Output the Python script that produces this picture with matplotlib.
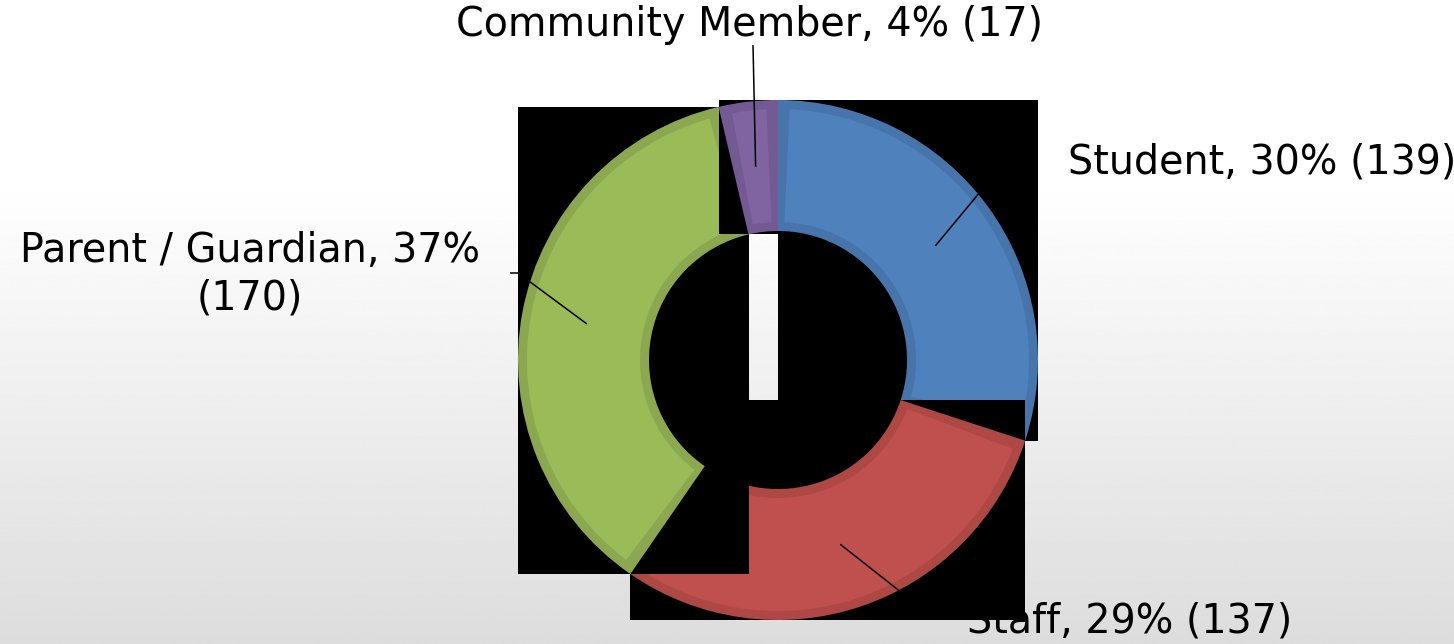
import numpy as np
import matplotlib.pyplot as plt
from matplotlib.patches import Wedge, Rectangle
from matplotlib.colors import to_rgb

# chart data
labels = ['Student', 'Staff', 'Parent / Guardian', 'Community Member']
counts = [139, 137, 170, 17]
percents = [30, 29, 37, 4]
colors = ['#4F81BD', '#C0504D', '#9BBB59', '#8064A2']

# layout (pixel units, y grows downward)
W, H = 1454, 644
cx, cy = 778, 360
r_out, r_in = 260, 129
band = 9
label_pos = [(1262, 162, 'center'), (1130, 622, 'center'), (250, 275, 'center'), (750, 25, 'center')]
leader_end = [[(990, 180)], [(930, 615)], [(518, 273), (510, 273)], [(753, 45)]]


def darker(c, f=0.9):
    return tuple(v * f for v in to_rgb(c))


def main():
    fig = plt.figure(figsize=(W / 100, H / 100), dpi=100)
    ax = fig.add_axes([0, 0, 1, 1])
    ax.set_xlim(0, W)
    ax.set_ylim(H, 0)
    ax.axis('off')

    # background gradient, white at top to light grey at bottom
    yy = np.linspace(0, 1, 300)
    shade = np.clip((yy - 0.28) / 0.72, 0, 1)
    g = 1.0 - shade * (1.0 - 0.865)
    img = np.repeat(g[:, None], 2, axis=1)
    ax.imshow(img, cmap='gray', vmin=0, vmax=1, extent=[0, W, H, 0], aspect='auto', zorder=0)

    total = sum(counts)
    start = 0.0
    z = 2
    for i, (lab, n, p, col) in enumerate(zip(labels, counts, percents, colors)):
        end = start + n / total * 360.0
        # angles clockwise from 12 o'clock -> matplotlib angles with inverted y axis
        w = Wedge((cx, cy), r_out, start - 90, end - 90, width=r_out - r_in,
                  facecolor=darker(col), edgecolor='none', zorder=z + 1)
        bb = w.get_path().get_extents()
        ax.add_patch(Rectangle((bb.x0, bb.y0), bb.width, bb.height,
                               facecolor='black', edgecolor='none', zorder=z))
        ax.add_patch(w)
        # lighter inner face (bevel look)
        r_mid = (r_out + r_in) / 2
        da = np.degrees(band / r_mid)
        if end - start > 2 * da:
            ax.add_patch(Wedge((cx, cy), r_out - band, start - 90 + da, end - 90 - da,
                               width=r_out - r_in - 2 * band, facecolor=col,
                               edgecolor='none', zorder=z + 1.5))

        # leader line from slice middle to label
        mid = np.radians((start + end) / 2)
        px, py = cx + r_mid * np.sin(mid), cy - r_mid * np.cos(mid)
        pts = [(px, py)] + leader_end[i]
        ax.plot([q[0] for q in pts], [q[1] for q in pts], color='black', lw=1.1,
                solid_capstyle='butt', zorder=20)

        tx, ty, ha = label_pos[i]
        txt = f'{lab}, {p}% ({n})'
        if lab.startswith('Parent'):
            txt = f'{lab}, {p}%\n({n})'
        ax.text(tx, ty, txt, ha=ha, va='center', multialignment='center',
                fontsize=28.5, family='DejaVu Sans', color='black', zorder=1,
                linespacing=1.25)
        start = end
        z += 2

    fig.savefig('out.png', dpi=100)


if __name__ == "__main__":
    main()
